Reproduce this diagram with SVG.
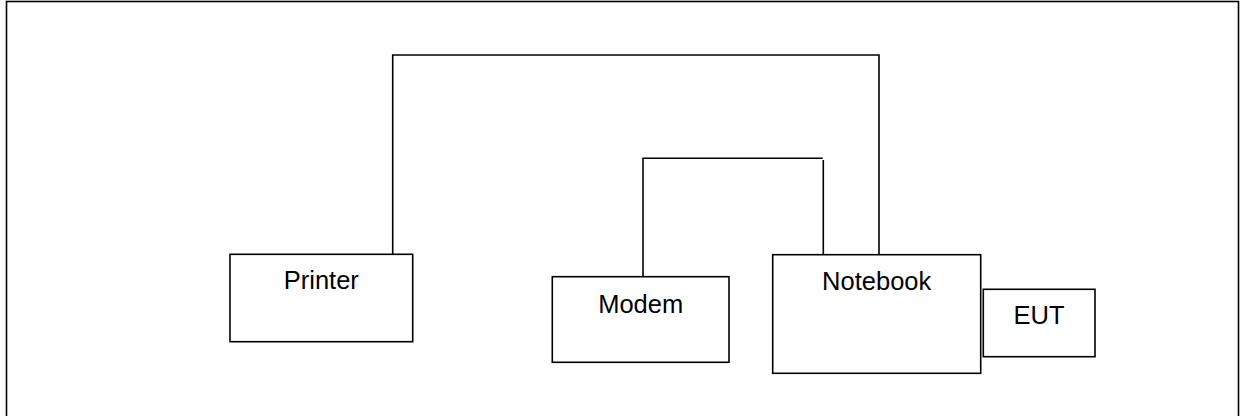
<svg xmlns="http://www.w3.org/2000/svg" width="1244" height="416" viewBox="0 0 1244 416">
<style>
.box{fill:#fff;stroke:#000;stroke-width:1.6}
.ln{fill:none;stroke:#000;stroke-width:1.6}
.t{font-family:"Liberation Sans",Arial,sans-serif;font-size:25.5px;fill:#000;text-anchor:middle}
</style>
<rect x="0" y="0" width="1244" height="416" fill="#fff"/>
<rect x="6.5" y="1.5" width="1232" height="420" fill="none" stroke="#000" stroke-width="1.6"/>
<g id="connectors">
<polyline class="ln" points="392.7,254.3 392.7,55 879,55 879,254.7"/>
<polyline class="ln" points="643,276.7 643,158.3 822.7,158.3"/>
<line class="ln" x1="823.3" y1="160" x2="823.3" y2="254.7"/>
</g>
<g id="printer">
<rect class="box" x="230" y="254.3" width="182.7" height="87.4"/>
<text class="t" x="321.3" y="289.3">Printer</text>
</g>
<g id="modem">
<rect class="box" x="552.3" y="276.7" width="176.7" height="85.6"/>
<text class="t" x="640.7" y="313.3">Modem</text>
</g>
<g id="notebook">
<rect class="box" x="772.7" y="254.7" width="208" height="118.6"/>
<text class="t" x="876.7" y="290">Notebook</text>
</g>
<g id="eut">
<rect class="box" x="983.3" y="289.3" width="111.7" height="67.4"/>
<text class="t" x="1039" y="324">EUT</text>
</g>
</svg>
